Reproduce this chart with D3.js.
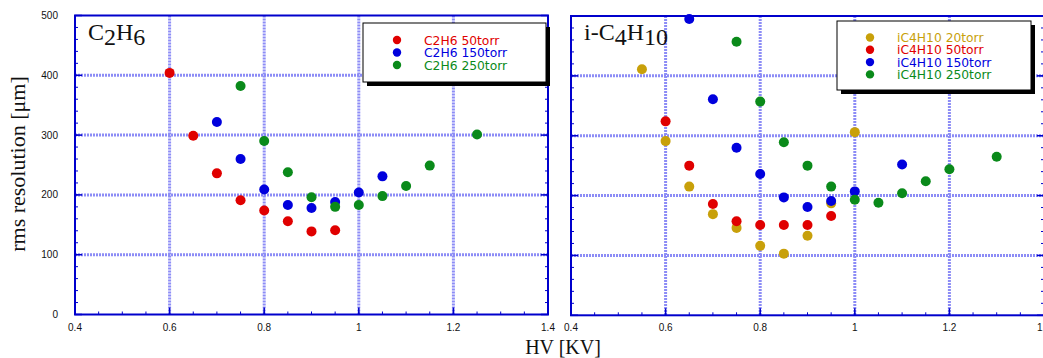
<!DOCTYPE html>
<html>
<head>
<meta charset="utf-8">
<script src="https://cdn.jsdelivr.net/npm/d3@7"></script>
<style>
  body { margin: 0; background: #fff; }
  svg { display: block; }
</style>
</head>
<body>
<div id="chart"></div>
<script>
// Canvas size
var width = 1043;
var height = 358;

// Data: HV [kV] and rms resolution [um]
var c2h6_50_hv   = [0.60, 0.65, 0.70, 0.75, 0.80, 0.85, 0.90, 0.95];
var c2h6_50_res  = [404, 299, 236, 191, 174, 156, 139, 141];
var c2h6_150_hv  = [0.70, 0.75, 0.80, 0.85, 0.90, 0.95, 1.00, 1.05];
var c2h6_150_res = [322, 260, 209, 183, 178, 188, 204, 231];
var c2h6_250_hv  = [0.75, 0.80, 0.85, 0.90, 0.95, 1.00, 1.05, 1.10, 1.15, 1.25];
var c2h6_250_res = [382, 290, 238, 196, 180, 183, 198, 215, 249, 301];

var ic4_20_hv   = [0.55, 0.60, 0.65, 0.70, 0.75, 0.80, 0.85, 0.90, 0.95, 1.00];
var ic4_20_res  = [411, 291, 215, 169, 146, 116, 103, 133, 187, 306];
var ic4_50_hv   = [0.60, 0.65, 0.70, 0.75, 0.80, 0.85, 0.90, 0.95];
var ic4_50_res  = [324, 250, 186, 157, 151, 151, 151, 166];
var ic4_150_hv  = [0.65, 0.70, 0.75, 0.80, 0.85, 0.90, 0.95, 1.00, 1.10];
var ic4_150_res = [495, 361, 280, 236, 197, 181, 191, 207, 252];
var ic4_250_hv  = [0.75, 0.80, 0.85, 0.90, 0.95, 1.00, 1.05, 1.10, 1.15, 1.20, 1.30];
var ic4_250_res = [457, 357, 289, 250, 215, 193, 188, 204, 224, 244, 265];

var xTicks = [0.4, 0.6, 0.8, 1, 1.2, 1.4];
var yTicks = [0, 100, 200, 300, 400, 500];

var gold = "#c8a00a", red = "#e00000", blue = "#0000dd", green = "#0a8a1a";

// panel definitions
var panels = [
  {
    left: 75, right: 548, top: 15.5, bottom: 314.5, yLabels: true,
    title: [["C", 0], ["2", 1], ["H", 0], ["6", 1]],
    series: [
      {name: "C2H6 50torr", color: red, hv: c2h6_50_hv, res: c2h6_50_res},
      {name: "C2H6 150torr", color: blue, hv: c2h6_150_hv, res: c2h6_150_res},
      {name: "C2H6 250torr", color: green, hv: c2h6_250_hv, res: c2h6_250_res}
    ],
    legend: {x: 363, y: 23, w: 183, h: 59, markX: 397, textX: 424, y0: 40, dy: 12.5}
  },
  {
    left: 571, right: 1044, top: 16, bottom: 315.3, yLabels: false,
    title: [["i-C", 0], ["4", 1], ["H", 0], ["10", 1]],
    series: [
      {name: "iC4H10 20torr", color: gold, hv: ic4_20_hv, res: ic4_20_res},
      {name: "iC4H10 50torr", color: red, hv: ic4_50_hv, res: ic4_50_res},
      {name: "iC4H10 150torr", color: blue, hv: ic4_150_hv, res: ic4_150_res},
      {name: "iC4H10 250torr", color: green, hv: ic4_250_hv, res: ic4_250_res}
    ],
    legend: {x: 837, y: 21, w: 194, h: 69, markX: 870, textX: 897, y0: 37.5, dy: 12.3}
  }
];

var svg = d3.select("#chart").append("svg")
    .attr("width", width)
    .attr("height", height);

panels.forEach(function(p) {
  var x = d3.scaleLinear().domain([0.4, 1.4]).range([p.left, p.right]);
  var y = d3.scaleLinear().domain([0, 500]).range([p.bottom, p.top]);
  var g = svg.append("g");

  // grid lines
  g.selectAll(".vgrid").data([0.6, 0.8, 1.0, 1.2]).enter().append("line")
    .attr("x1", function(d) { return x(d); })
    .attr("x2", function(d) { return x(d); })
    .attr("y1", p.top).attr("y2", p.bottom)
    .attr("stroke", "#8c8cf6").attr("stroke-width", 3)
    .attr("stroke-dasharray", "2,1");
  g.selectAll(".hgrid").data([100, 200, 300, 400]).enter().append("line")
    .attr("x1", p.left).attr("x2", p.right)
    .attr("y1", function(d) { return y(d); })
    .attr("y2", function(d) { return y(d); })
    .attr("stroke", "#8c8cf6").attr("stroke-width", 3)
    .attr("stroke-dasharray", "2,1");

  // minor ticks (inside)
  var minorX = d3.range(0.45, 1.4, 0.05);
  var minorY = d3.range(20, 500, 20);
  g.selectAll(".mx").data(minorX).enter().append("line")
    .attr("x1", function(d) { return x(d); }).attr("x2", function(d) { return x(d); })
    .attr("y1", p.bottom).attr("y2", p.bottom - 3)
    .attr("stroke", "#0000cc").attr("stroke-width", 1);
  g.selectAll(".my").data(minorY).enter().append("line")
    .attr("x1", p.left).attr("x2", p.left + 3)
    .attr("y1", function(d) { return y(d); }).attr("y2", function(d) { return y(d); })
    .attr("stroke", "#0000cc").attr("stroke-width", 1);
  g.selectAll(".myr").data(minorY).enter().append("line")
    .attr("x1", p.right).attr("x2", p.right - 3)
    .attr("y1", function(d) { return y(d); }).attr("y2", function(d) { return y(d); })
    .attr("stroke", "#0000cc").attr("stroke-width", 1);
  // major ticks
  g.selectAll(".Mx").data(xTicks).enter().append("line")
    .attr("x1", function(d) { return x(d); }).attr("x2", function(d) { return x(d); })
    .attr("y1", p.bottom).attr("y2", p.bottom - 7)
    .attr("stroke", "#0000cc").attr("stroke-width", 1.5);
  g.selectAll(".My").data(yTicks).enter().append("line")
    .attr("x1", p.left).attr("x2", p.left + 7)
    .attr("y1", function(d) { return y(d); }).attr("y2", function(d) { return y(d); })
    .attr("stroke", "#0000cc").attr("stroke-width", 1.5);
  g.selectAll(".Myr").data(yTicks).enter().append("line")
    .attr("x1", p.right).attr("x2", p.right - 7)
    .attr("y1", function(d) { return y(d); }).attr("y2", function(d) { return y(d); })
    .attr("stroke", "#0000cc").attr("stroke-width", 1.5);

  // frame
  g.append("rect")
    .attr("x", p.left).attr("y", p.top)
    .attr("width", p.right - p.left).attr("height", p.bottom - p.top)
    .attr("fill", "none").attr("stroke", "#0000cc").attr("stroke-width", 2);

  // tick labels
  g.selectAll(".xl").data(xTicks).enter().append("text")
    .attr("x", function(d) { return x(d); })
    .attr("y", p.bottom + 16)
    .attr("text-anchor", "middle")
    .attr("font-family", "Liberation Sans, Arial, sans-serif")
    .attr("font-size", 10)
    .attr("fill", "#111")
    .text(function(d) { return d; });
  if (p.yLabels) {
    g.selectAll(".yl").data(yTicks).enter().append("text")
      .attr("x", p.left - 17)
      .attr("y", function(d) { return y(d) + 3.5; })
      .attr("text-anchor", "end")
      .attr("font-family", "Liberation Sans, Arial, sans-serif")
      .attr("font-size", 10)
      .attr("fill", "#111")
      .text(function(d) { return d; });
  }

  // panel title with subscripts
  var t = g.append("text")
    .attr("x", p.left + 13).attr("y", 45)
    .attr("font-family", "Liberation Serif, Times New Roman, serif")
    .attr("font-size", 24)
    .attr("fill", "#111");
  p.title.forEach(function(part) {
    t.append("tspan")
      .attr("dy", part[1] ? 5 : (t.selectAll("tspan").size() > 0 ? -5 : 0))
      .text(part[0]);
  });

  // points
  p.series.forEach(function(s) {
    g.selectAll(null).data(d3.zip(s.hv, s.res)).enter().append("circle")
      .attr("cx", function(d) { return x(d[0]); })
      .attr("cy", function(d) { return y(d[1]); })
      .attr("r", 5)
      .attr("fill", s.color);
  });

  // legend
  var L = p.legend;
  g.append("rect").attr("x", L.x + 4).attr("y", L.y + 4)
    .attr("width", L.w).attr("height", L.h).attr("fill", "#000");
  g.append("rect").attr("x", L.x).attr("y", L.y)
    .attr("width", L.w).attr("height", L.h)
    .attr("fill", "#fff").attr("stroke", "#000").attr("stroke-width", 1);
  p.series.forEach(function(s, i) {
    g.append("circle")
      .attr("cx", L.markX).attr("cy", L.y0 + i * L.dy)
      .attr("r", 4.2).attr("fill", s.color);
    g.append("text")
      .attr("x", L.textX).attr("y", L.y0 + i * L.dy + 4.5)
      .attr("font-family", "DejaVu Sans, sans-serif")
      .attr("font-size", 12.3)
      .attr("fill", s.color)
      .text(s.name);
  });
});

// axis titles
svg.append("text")
  .attr("transform", "translate(25,164) rotate(-90)")
  .attr("text-anchor", "middle")
  .attr("font-family", "Liberation Serif, Times New Roman, serif")
  .attr("font-size", 22)
  .attr("fill", "#111")
  .text("rms resolution [\u03bcm]");

svg.append("text")
  .attr("x", 563).attr("y", 354)
  .attr("text-anchor", "middle")
  .attr("font-family", "Liberation Serif, Times New Roman, serif")
  .attr("font-size", 20)
  .attr("fill", "#111")
  .text("HV [KV]");
</script>
</body>
</html>
